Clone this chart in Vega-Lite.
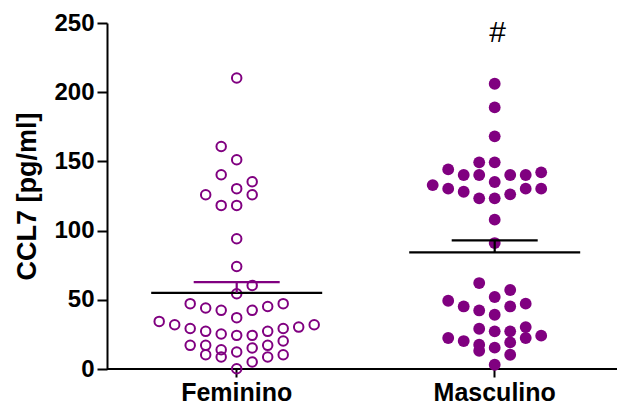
{
  "$schema": "https://vega.github.io/schema/vega-lite/v6.json",
  "width": 510,
  "height": 346,
  "autosize": {"type": "none"},
  "padding": {"left": 107, "top": 23, "right": 0, "bottom": 40},
  "background": "white",
  "config": {
    "view": {"stroke": null},
    "font": "Liberation Sans",
    "axis": {"labelColor": "black", "titleColor": "black", "labelFont": "Liberation Sans", "titleFont": "Liberation Sans"}
  },
  "data": {
    "values": [
      {"g": "Feminino", "v": 210.3, "col": 0},
      {"g": "Feminino", "v": 160.8, "col": -1},
      {"g": "Feminino", "v": 151.2, "col": 0},
      {"g": "Feminino", "v": 140.4, "col": -1},
      {"g": "Feminino", "v": 135.3, "col": 1},
      {"g": "Feminino", "v": 130.3, "col": 0},
      {"g": "Feminino", "v": 125.9, "col": -2},
      {"g": "Feminino", "v": 125.9, "col": 1},
      {"g": "Feminino", "v": 118.2, "col": -1},
      {"g": "Feminino", "v": 118.2, "col": 0},
      {"g": "Feminino", "v": 94.1, "col": 0},
      {"g": "Feminino", "v": 74.1, "col": 0},
      {"g": "Feminino", "v": 60.4, "col": 1},
      {"g": "Feminino", "v": 54.4, "col": 0},
      {"g": "Feminino", "v": 47.2, "col": -3},
      {"g": "Feminino", "v": 44.1, "col": -2},
      {"g": "Feminino", "v": 42.4, "col": -1},
      {"g": "Feminino", "v": 42.4, "col": 1},
      {"g": "Feminino", "v": 45.2, "col": 2},
      {"g": "Feminino", "v": 47.2, "col": 3},
      {"g": "Feminino", "v": 37.1, "col": 0},
      {"g": "Feminino", "v": 34.4, "col": -5},
      {"g": "Feminino", "v": 32.0, "col": -4},
      {"g": "Feminino", "v": 29.3, "col": -3},
      {"g": "Feminino", "v": 27.2, "col": -2},
      {"g": "Feminino", "v": 25.3, "col": -1},
      {"g": "Feminino", "v": 24.3, "col": 0},
      {"g": "Feminino", "v": 24.3, "col": 1},
      {"g": "Feminino", "v": 27.2, "col": 2},
      {"g": "Feminino", "v": 29.3, "col": 3},
      {"g": "Feminino", "v": 30.3, "col": 4},
      {"g": "Feminino", "v": 32.0, "col": 5},
      {"g": "Feminino", "v": 17.1, "col": -3},
      {"g": "Feminino", "v": 17.1, "col": -2},
      {"g": "Feminino", "v": 13.9, "col": -1},
      {"g": "Feminino", "v": 12.3, "col": 0},
      {"g": "Feminino", "v": 15.2, "col": 1},
      {"g": "Feminino", "v": 17.1, "col": 2},
      {"g": "Feminino", "v": 20.2, "col": 3},
      {"g": "Feminino", "v": 10.3, "col": -2},
      {"g": "Feminino", "v": 8.7, "col": -1},
      {"g": "Feminino", "v": 5.1, "col": 1},
      {"g": "Feminino", "v": 8.7, "col": 2},
      {"g": "Feminino", "v": 10.3, "col": 3},
      {"g": "Feminino", "v": 0.2, "col": 0},
      {"g": "Masculino", "v": 206.1, "col": 0},
      {"g": "Masculino", "v": 189.0, "col": 0},
      {"g": "Masculino", "v": 168.1, "col": 0},
      {"g": "Masculino", "v": 149.3, "col": -1},
      {"g": "Masculino", "v": 149.3, "col": 0},
      {"g": "Masculino", "v": 144.2, "col": -3},
      {"g": "Masculino", "v": 140.2, "col": -2},
      {"g": "Masculino", "v": 140.2, "col": -1},
      {"g": "Masculino", "v": 140.2, "col": 1},
      {"g": "Masculino", "v": 140.2, "col": 2},
      {"g": "Masculino", "v": 142.1, "col": 3},
      {"g": "Masculino", "v": 135.1, "col": 0},
      {"g": "Masculino", "v": 132.9, "col": -4},
      {"g": "Masculino", "v": 130.3, "col": -3},
      {"g": "Masculino", "v": 128.1, "col": -2},
      {"g": "Masculino", "v": 130.3, "col": 2},
      {"g": "Masculino", "v": 130.3, "col": 3},
      {"g": "Masculino", "v": 123.3, "col": -1},
      {"g": "Masculino", "v": 123.3, "col": 0},
      {"g": "Masculino", "v": 126.2, "col": 1},
      {"g": "Masculino", "v": 107.9, "col": 0},
      {"g": "Masculino", "v": 91.0, "col": 0},
      {"g": "Masculino", "v": 62.1, "col": -1},
      {"g": "Masculino", "v": 57.1, "col": 1},
      {"g": "Masculino", "v": 52.0, "col": 0},
      {"g": "Masculino", "v": 49.3, "col": -3},
      {"g": "Masculino", "v": 45.2, "col": -2},
      {"g": "Masculino", "v": 47.2, "col": 2},
      {"g": "Masculino", "v": 45.2, "col": 1},
      {"g": "Masculino", "v": 42.3, "col": -1},
      {"g": "Masculino", "v": 39.2, "col": 0},
      {"g": "Masculino", "v": 29.1, "col": -1},
      {"g": "Masculino", "v": 27.2, "col": 0},
      {"g": "Masculino", "v": 27.2, "col": 1},
      {"g": "Masculino", "v": 30.3, "col": 2},
      {"g": "Masculino", "v": 24.1, "col": 3},
      {"g": "Masculino", "v": 22.4, "col": -3},
      {"g": "Masculino", "v": 20.2, "col": -2},
      {"g": "Masculino", "v": 17.6, "col": -1},
      {"g": "Masculino", "v": 13.2, "col": -1},
      {"g": "Masculino", "v": 15.4, "col": 0},
      {"g": "Masculino", "v": 19.2, "col": 1},
      {"g": "Masculino", "v": 22.4, "col": 2},
      {"g": "Masculino", "v": 10.3, "col": 1},
      {"g": "Masculino", "v": 3.1, "col": 0}
    ]
  },
  "layer": [
    {
      "data": {"values": [{}]},
      "mark": {"type": "rule", "color": "black", "strokeWidth": 2},
      "encoding": {"y": {"datum": 0, "type": "quantitative"}}
    },
    {
      "transform": [{"filter": "datum.g === 'Feminino'"}],
      "mark": {"type": "point", "shape": "circle", "filled": false, "strokeWidth": 2, "size": 90, "color": "#800080", "opacity": 1},
      "encoding": {
        "x": {
          "field": "g", "type": "nominal",
          "scale": {"type": "band", "domain": ["Feminino", "Masculino"], "range": [0.7, 516.7], "paddingInner": 0, "paddingOuter": 0},
          "axis": {"title": null, "domain": false, "labelAngle": 0, "labelFontSize": 25, "labelFontWeight": "bold", "labelPadding": 3, "tickSize": 8, "tickWidth": 2, "tickColor": "black"}
        },
        "xOffset": {"field": "col", "type": "quantitative", "scale": {"domain": [-5, 5], "range": [51.5, 206.5]}},
        "y": {
          "field": "v", "type": "quantitative",
          "scale": {"domain": [0, 250], "nice": false, "zero": true},
          "axis": {"title": "CCL7 [pg/ml]", "values": [0, 50, 100, 150, 200, 250], "grid": false, "domainColor": "black", "domainWidth": 2, "tickColor": "black", "tickWidth": 2, "tickSize": 10, "labelFontSize": 24, "labelFontWeight": "bold", "labelPadding": 3, "titleFontSize": 27, "titleFontWeight": "bold", "titlePadding": 12}
        }
      }
    },
    {
      "transform": [{"filter": "datum.g === 'Masculino'"}],
      "mark": {"type": "circle", "size": 140, "color": "#800080", "opacity": 1},
      "encoding": {
        "x": {"field": "g", "type": "nominal"},
        "xOffset": {"field": "col", "type": "quantitative"},
        "y": {"field": "v", "type": "quantitative"}
      }
    },
    {
      "transform": [
        {"aggregate": [{"op": "mean", "field": "v", "as": "m"}, {"op": "stderr", "field": "v", "as": "se"}], "groupby": ["g"]},
        {"calculate": "datum.m + datum.se", "as": "hi"}
      ],
      "layer": [
        {
          "mark": {"type": "tick", "orient": "horizontal", "size": 171, "thickness": 2.2, "color": "black", "opacity": 1},
          "encoding": {
            "x": {"field": "g", "type": "nominal"},
            "y": {"field": "m", "type": "quantitative"}
          }
        },
        {
          "mark": {"type": "rule", "strokeWidth": 2.2, "opacity": 1},
          "encoding": {
            "x": {"field": "g", "type": "nominal"},
            "y": {"field": "m", "type": "quantitative"},
            "y2": {"field": "hi"},
            "color": {"field": "g", "type": "nominal", "scale": {"domain": ["Feminino", "Masculino"], "range": ["#800080", "#000000"]}, "legend": null}
          }
        },
        {
          "mark": {"type": "tick", "orient": "horizontal", "size": 86, "thickness": 2.2, "opacity": 1},
          "encoding": {
            "x": {"field": "g", "type": "nominal"},
            "y": {"field": "hi", "type": "quantitative"},
            "color": {"field": "g", "type": "nominal", "legend": null}
          }
        }
      ]
    },
    {
      "data": {"values": [{}]},
      "mark": {"type": "text", "text": "#", "font": "Liberation Sans", "fontSize": 30, "baseline": "middle", "dx": 3, "color": "black"},
      "encoding": {
        "x": {"datum": "Masculino", "type": "nominal"},
        "y": {"datum": 242.8, "type": "quantitative"}
      }
    }
  ]
}
